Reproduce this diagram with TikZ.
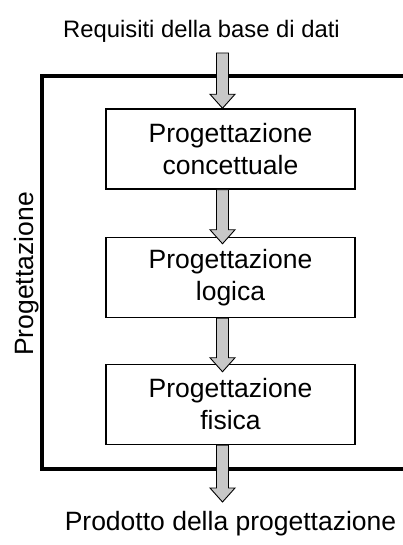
\documentclass[tikz,border=0pt]{standalone}
\usepackage{fontspec}
\setmainfont{Liberation Sans}
\usetikzlibrary{calc,positioning}

\definecolor{arrowgray}{RGB}{200,200,200}

% block arrow from #1 down to #2
\newcommand{\blockarrow}[2]{%
  \filldraw[fatarrow] let \p1=(#1), \p2=(#2) in
    (\x1-6pt,\y1) -- (\x1-6pt,\y2+14pt) -- (\x1-12.5pt,\y2+14pt) -- (\x1,\y2)
    -- (\x1+12.5pt,\y2+14pt) -- (\x1+6pt,\y2+14pt) -- (\x1+6pt,\y1) -- cycle;}

\begin{document}
\begin{tikzpicture}[x=1pt, y=-1pt, font=\fontsize{26.5}{32}\selectfont]
\def \sp {1.5pt}
  \tikzstyle{block} = [draw, color=black, fill=white, rectangle, minimum height=80pt,
                       minimum width=249pt, line width=\sp, text width=240pt,
                       align=center, text=black, inner sep=0]
  \tikzstyle{frame} = [black, line width=3.5pt]
  \tikzstyle{fatarrow} = [draw=black, fill=arrowgray, line width=0.9pt, line join=miter]
  \tikzstyle{label} = [text=black, inner sep=0]

\useasboundingbox (0,0) rectangle (403,545);

%%%%%%%%%%%%%%%%%%%%%%%%%%%%%%%%%%%%%%%%%%%%%%%%%%%%%%%%%%%%%%%%%%%%%%%%%%%%%%%

\coordinate (concept_pose) at (230.5, 149);
\coordinate (logic_pose) at (230.5, 277.5);
\coordinate (phys_pose) at (230.5, 404.5);
\coordinate (in) at (222.5, 53);
\coordinate (out) at (222.5, 502);

%%%%%%%%%%%%%%%%%%%%%%%%%%%%%%%%%%%%%%%%%%%%%%%%%%%%%%%%%%%%%%%%%%%%%%%%%%%%%%%

\draw[frame] (403, 76) -- (42, 76) -- (42, 469) -- (403, 469);

\node[block] (concept) at (concept_pose) {Progettazione \\ concettuale};
\node[block] (logic) at (logic_pose) {Progettazione \\ logica};
\node[block] (phys) at (phys_pose) {Progettazione \\ fisica};

\node[label, font=\fontsize{23.8}{28}\selectfont] (req) at (201.5, 31) {Requisiti della base di dati};
\node[label] (prod) at (230.5, 524) {Prodotto della progettazione};
\node[label, rotate=90] (design) at (27, 274) {Progettazione};

%%%%%%%%%%%%%%%%%%%%%%%%%%%%%%%%%%%%%%%%%%%%%%%%%%%%%%%%%%%%%%%%%%%%%%%%%%%%%%%

\blockarrow{in}{concept.north -| in}
\blockarrow{concept.south -| in}{$(logic.north -| in)+(0,7)$}
\blockarrow{logic.south -| in}{$(phys.north -| in)+(0,8)$}
\blockarrow{phys.south -| in}{out}

\end{tikzpicture}
\end{document}
